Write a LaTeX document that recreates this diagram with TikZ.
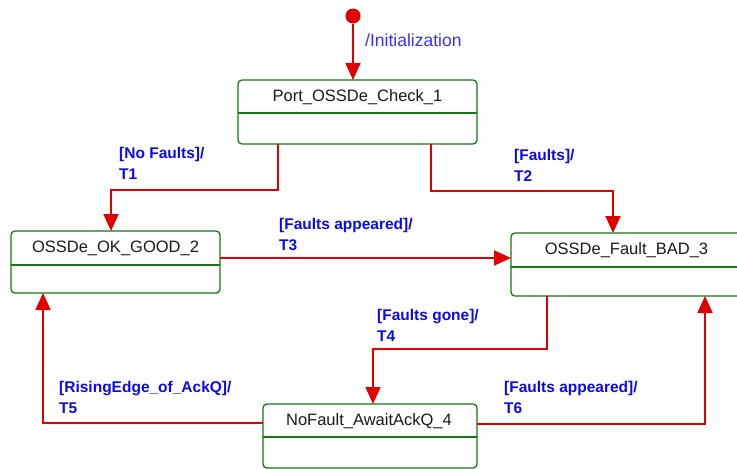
\documentclass[tikz,border=0pt]{standalone}
\usepackage{fontspec}
\setmainfont{Liberation Sans}
\usetikzlibrary{arrows.meta}

\definecolor{transred}{RGB}{225,0,0}
\definecolor{stategreen}{RGB}{20,120,20}
\definecolor{guardblue}{RGB}{10,10,240}
\definecolor{initblue}{RGB}{50,50,255}
\definecolor{statetext}{RGB}{25,25,25}

\tikzset{
  statebox/.style={draw=stategreen, line width=1.3pt, rounded corners=4pt,
    inner sep=0pt, outer sep=0pt},
  divider/.style={draw=stategreen, line width=1.3pt},
  statename/.style={anchor=base, inner sep=0pt, text=statetext,
    font=\fontsize{16.5}{20}\selectfont},
  trans/.style={draw=transred, line width=1.8pt,
    -{Triangle[length=17pt,width=15pt]}},
  guard/.style={anchor=north west, inner sep=0pt, align=left, text=guardblue,
    font=\fontsize{15.5}{21}\selectfont\bfseries},
  initdot/.style={circle, fill=transred, inner sep=0pt, minimum size=15pt},
}

\begin{document}
\begin{tikzpicture}[x=1pt, y=-1pt]
  \useasboundingbox (0,0) rectangle (737,469);
  \clip (0,0) rectangle (737,469);

  % states
  \node[statebox, minimum width=239pt, minimum height=64pt] (s1) at (357.5,112) {};
  \node[statename] (s1n) at (357.5,101.5) {Port\_OSSDe\_Check\_1};
  \draw[divider] (s1.west |- 0,113) -- (s1.east |- 0,113);

  \node[statebox, minimum width=209pt, minimum height=62pt] (s2) at (115.5,262) {};
  \node[statename] (s2n) at (115.5,252.2) {OSSDe\_OK\_GOOD\_2};
  \draw[divider] (s2.west |- 0,265) -- (s2.east |- 0,265);

  \node[statebox, minimum width=231pt, minimum height=63pt] (s3) at (626.5,264.5) {};
  \node[statename] (s3n) at (626.5,254.7) {OSSDe\_Fault\_BAD\_3};
  \draw[divider] (s3.west |- 0,267) -- (s3.east |- 0,267);

  \node[statebox, minimum width=214pt, minimum height=64pt] (s4) at (370,436) {};
  \node[statename] (s4n) at (369,425.1) {NoFault\_AwaitAckQ\_4};
  \draw[divider] (s4.west |- 0,437) -- (s4.east |- 0,437);

  % initial pseudo-state
  \node[initdot] (init) at (353,16) {};
  \draw[trans] (init) -- (s1.north -| init);
  \node[anchor=base west, inner sep=0pt, text=initblue,
    font=\fontsize{17.5}{21}\selectfont] (initlbl) at (365,46) {/Initialization};

  % bend points of the transitions
  \coordinate (a1) at (278,190);
  \coordinate (b1) at (111,190);
  \coordinate (a2) at (431,191);
  \coordinate (b2) at (613,191);
  \coordinate (c3) at (0,258);
  \coordinate (a4) at (547,349);
  \coordinate (b4) at (373,349);
  \coordinate (a5) at (43,423);
  \coordinate (a6) at (705,424);

  % transitions
  \draw[trans] (s1.south -| a1) -- (a1) -- (b1) -- (s2.north -| b1);
  \draw[trans] (s1.south -| a2) -- (a2) -- (b2) -- (s3.north -| b2);
  \draw[trans] (s2.east |- c3) -- (s3.west |- c3);
  \draw[trans] (s3.south -| a4) -- (a4) -- (b4) -- (s4.north -| b4);
  \draw[trans] (s4.west |- a5) -- (a5) -- (s2.south -| a5);
  \draw[trans] (s4.east |- a6) -- (a6) -- (s3.south -| a6);

  % guards and transition names
  \node[guard] (g1) at (119,147) {[No Faults]/\\T1};
  \node[guard] (g2) at (514,149) {[Faults]/\\T2};
  \node[guard] (g3) at (279,218) {[Faults appeared]/\\T3};
  \node[guard] (g4) at (377,309) {[Faults gone]/\\T4};
  \node[guard] (g5) at (59,381) {[RisingEdge\_of\_AckQ]/\\T5};
  \node[guard] (g6) at (504,381) {[Faults appeared]/\\T6};
\end{tikzpicture}
\end{document}
